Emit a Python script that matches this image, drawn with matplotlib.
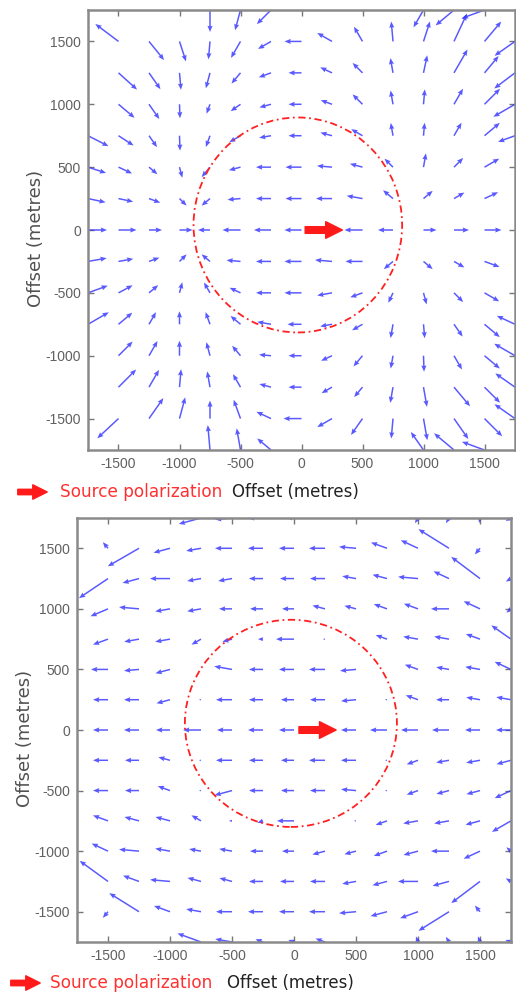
import numpy as np
import matplotlib
matplotlib.use('Agg')
import matplotlib.pyplot as plt
from matplotlib.patches import Circle, FancyArrowPatch
from matplotlib import font_manager

# grid of receiver positions (metres); rows listed from the top (north) down
grid_x = [-1750, -1500, -1250, -1000, -750, -500, -250, 0, 250, 500, 750, 1000, 1250, 1500, 1750]
grid_y = [1750, 1500, 1250, 1000, 750, 500, 250, 0, -250, -500, -750, -1000, -1250, -1500, -1750]
ticks = [-1500, -1000, -500, 0, 500, 1000, 1500]

# top panel: arrow direction (deg, on screen) and length (pixels)
top_angle = [
    [0, 0, 0, 0, -90, -105, -135, 0, 0, 0, 0, -120, -140, -160, 0],
    [0, 143, -51, -72, -95, -120, -150, 180, 150, 120, 95, 72, 65, 50, -145],
    [0, -42, -55, -85, -105, -130, -160, 180, 155, 135, 100, 78, 60, 50, -143],
    [0, -40, -55, -88, -110, -145, -165, 180, 160, 135, 100, 85, 60, 45, -150],
    [-27, -33, -55, -88, -110, -150, -170, 180, 165, 150, 100, 85, 60, 40, -160],
    [-18, -25, -40, -75, -130, -165, 180, 180, 175, 165, 135, 80, 45, 30, 0],
    [-12, -12, -20, -45, -140, -175, 180, 180, 180, 170, 140, 40, 30, 25, 0],
    [0, 0, 0, 0, 180, 180, 180, 180, 180, 180, 180, 0, 0, 0, 0],
    [10, 10, 20, 45, 140, 175, 180, 180, 175, 180, -140, -40, -30, -20, 0],
    [20, 28, 40, 75, 120, 155, 180, 180, -170, -160, -115, -75, -45, -30, 0],
    [30, 40, 60, 90, 110, 140, 170, 180, -170, -150, -100, -85, -55, -40, 155],
    [0, 45, 60, 90, 105, 130, 175, 180, -155, -130, -100, -88, -60, -40, 150],
    [0, 45, 60, 85, 100, 120, 165, 180, -150, -130, -100, -80, -50, -45, 145],
    [0, -137, 55, 75, 90, 110, 155, 180, -150, -125, -95, -80, -55, -45, 145],
    [0, 0, 0, 0, 95, 100, 140, 0, 0, 0, 0, 125, 140, 160, 0],
]
top_length = [
    [0, 0, 0, 0, 22, 21, 20, 0, 0, 0, 0, 20, 24, 24, 0],
    [0, 29, 24, 21, 18, 19, 15, 17, 17, 17, 20, 21, 30, 26, 25],
    [0, 25, 20, 17, 16, 14, 13, 13, 13, 14, 15, 18, 27, 22, 26],
    [0, 21, 18, 14, 10, 12, 12, 13, 12, 14, 14, 15, 18, 22, 25],
    [23, 18, 14, 15, 12, 13, 12, 13, 12, 13, 13, 13, 15, 20, 18],
    [19, 15, 11, 11, 13, 12, 15, 16, 15, 13, 12, 14, 13, 17, 0],
    [18, 15, 12, 10, 11, 13, 15, 16, 16, 16, 13, 12, 12, 15, 0],
    [19, 18, 13, 13, 12, 18, 17, 17, 17, 18, 15, 13, 15, 17, 0],
    [19, 15, 11, 10, 11, 14, 15, 17, 17, 17, 12, 12, 12, 16, 0],
    [21, 16, 12, 11, 12, 12, 15, 17, 15, 13, 11, 12, 13, 17, 0],
    [24, 18, 14, 13, 13, 13, 14, 14, 12, 12, 14, 14, 15, 20, 20],
    [0, 20, 17, 15, 14, 13, 12, 13, 12, 14, 13, 16, 16, 20, 24],
    [0, 25, 20, 18, 16, 15, 12, 13, 12, 13, 16, 20, 25, 22, 24],
    [0, 29, 25, 22, 18, 20, 16, 18, 17, 20, 20, 22, 25, 25, 25],
    [0, 0, 0, 0, 25, 22, 18, 0, 0, 0, 0, 22, 26, 24, 0],
]

# bottom panel
bot_angle = [
    [0, 0, 0, 0, -165, -175, 180, 175, 0, 0, 0, -120, -120, -100, -150],
    [0, 130, -150, -165, -170, 180, 180, 180, 180, 175, 160, 155, 148, -130, 0],
    [0, -146, -165, 180, -170, -170, 180, 180, 180, 170, 165, 175, 155, 143, -150],
    [0, -157, 175, -170, -170, 180, 180, 180, 165, 165, 160, 160, 180, 155, -140],
    [0, -160, -170, -170, -150, -165, 180, 180, 180, 0, 160, 170, 170, 160, 145],
    [0, 180, -175, -165, 0, 170, 180, 180, 180, -175, 0, 160, 170, 170, 155],
    [0, 180, 180, -165, 180, 180, 180, 180, 180, -175, 180, 160, 180, 170, 170],
    [0, 180, 180, 180, 180, 180, 180, 180, 180, 180, 180, 180, 180, 180, 180],
    [0, 180, 180, 165, 180, 180, 180, 180, 180, 180, 180, -160, -170, -170, -165],
    [0, 180, 180, 160, 180, -165, 180, 180, 180, 175, 180, -160, -165, -165, -155],
    [0, 160, 165, 165, 150, 180, -160, 180, 0, 180, -160, -170, -170, -165, -150],
    [0, 155, 175, 170, 170, 170, 180, 180, -165, -165, -160, -165, 180, -155, 140],
    [0, 144, 160, 175, 165, 165, 180, 180, 180, -170, -165, 180, -165, -143, 150],
    [0, -130, 148, 160, 170, 180, 180, 180, 180, -175, -165, -160, -148, 130, 0],
    [0, 0, 0, 0, 160, 170, 160, 160, 160, 0, 0, 110, 120, 110, 160],
]
bot_length = [
    [0, 0, 0, 0, 23, 17, 15, 8, 0, 0, 0, 6, 6, 5, 6],
    [0, 8, 36, 17, 15, 17, 15, 15, 16, 17, 17, 19, 36, 8, 0],
    [0, 35, 17, 20, 14, 14, 14, 14, 15, 14, 15, 20, 17, 36, 6],
    [0, 19, 20, 15, 14, 13, 13, 12, 13, 12, 14, 15, 18, 18, 6],
    [0, 16, 15, 15, 11, 10, 5, 18, 2, 0, 12, 15, 15, 15, 24],
    [0, 17, 15, 15, 0, 18, 14, 15, 16, 16, 0, 14, 13, 15, 18],
    [0, 15, 15, 14, 2, 16, 14, 13, 15, 15, 2, 13, 13, 14, 15],
    [0, 15, 15, 14, 18, 15, 15, 15, 15, 15, 17, 17, 17, 15, 15],
    [0, 15, 14, 12, 2, 16, 14, 13, 16, 15, 2, 12, 13, 14, 15],
    [0, 15, 14, 13, 2, 18, 14, 13, 15, 15, 2, 12, 13, 14, 18],
    [0, 16, 15, 15, 11, 3, 6, 17, 0, 2, 12, 15, 15, 15, 22],
    [0, 18, 20, 15, 12, 13, 13, 12, 13, 12, 14, 15, 18, 18, 6],
    [0, 35, 17, 20, 14, 13, 14, 14, 15, 14, 15, 20, 17, 36, 6],
    [0, 8, 35, 17, 15, 16, 15, 15, 16, 17, 17, 19, 36, 8, 0],
    [0, 0, 0, 0, 25, 17, 8, 6, 10, 0, 0, 6, 6, 6, 6],
]

# circle (centre x, centre y, radius) and source arrow (x start, x end)
top_circle = (-30, 40, 855)
bot_circle = (-25, 55, 855)
top_source = (30, 335)
bot_source = (40, 340)

plt.rcParams['axes.unicode_minus'] = False
names = {f.name for f in font_manager.fontManager.ttflist}
tick_font = 'Liberation Sans Narrow' if 'Liberation Sans Narrow' in names else 'Liberation Sans'

W, H = 516, 994
fig = plt.figure(figsize=(W / 100, H / 100), dpi=100)


def panel(box, angle, length, circle, source, ylab_x, xlab_x, arrow_x0, text_x, text_y):
    l, t, r, b = box
    ax = fig.add_axes([l / W, 1 - b / H, (r - l) / W, (b - t) / H])
    X, Y = np.meshgrid(grid_x, grid_y)
    a = np.radians(np.array(angle, dtype=float))
    L = np.ma.masked_equal(np.array(length, dtype=float), 0)
    ax.quiver(X, Y, L * np.cos(a), L * np.sin(a), color='#3030ff', alpha=0.8,
              units='dots', width=1.5, headwidth=3.4, headlength=4.2, headaxislength=3.8,
              scale_units='dots', scale=1, pivot='tail', minlength=0, zorder=2)
    cx, cy, rad = circle
    ax.add_patch(Circle((cx, cy), rad, fill=False, ec='#ff2020', lw=1.3,
                        ls=(0, (4, 2, 1, 2)), zorder=3))
    ax.annotate('', xy=(source[1], 0), xytext=(source[0], 0),
                arrowprops=dict(arrowstyle='simple,head_length=0.75,head_width=0.75,tail_width=0.3',
                                color='#ff1a1a', mutation_scale=16, shrinkA=0, shrinkB=0),
                zorder=4)
    ax.set_xlim(-1750, 1750)
    ax.set_ylim(-1750, 1750)
    ax.set_xticks(ticks)
    ax.set_yticks(ticks)
    ax.tick_params(direction='in', length=4, width=1, colors='#777777', top=True, right=True,
                   labelsize=10, labelcolor='#606060', pad=5)
    for lab in ax.get_xticklabels() + ax.get_yticklabels():
        lab.set_family(tick_font)
    for s in ax.spines.values():
        s.set_color('#8a8a8a')
        s.set_linewidth(1.8)
    ax.set_ylabel('Offset (metres)', fontsize=13, color='#505050')
    ax.yaxis.set_label_coords((ylab_x - l) / (r - l), 0.48)
    ax.set_xlabel('Offset (metres)', fontsize=12, color='#222222', va='center')
    ax.xaxis.set_label_coords((xlab_x - l) / (r - l), (b - text_y) / (b - t))
    # legend: red arrow + text under the axes
    fig.patches.append(FancyArrowPatch(
        (arrow_x0, H - text_y), (arrow_x0 + 35, H - text_y), transform=None,
        arrowstyle='simple,head_length=0.8,head_width=0.8,tail_width=0.3',
        mutation_scale=13, color='#ff1a1a'))
    fig.text(text_x / W, 1 - text_y / H, 'Source polarization', color='#ff3030',
             fontsize=12.2, va='center', ha='left')
    return ax


panel((88, 10, 515, 450), top_angle, top_length, top_circle, top_source,
      45, 295, 15, 60, 492)
panel((77, 518, 511, 942), bot_angle, bot_length, bot_circle, bot_source,
      34, 290, 8, 50, 983)

fig.savefig('out.png', dpi=100, facecolor='white')
